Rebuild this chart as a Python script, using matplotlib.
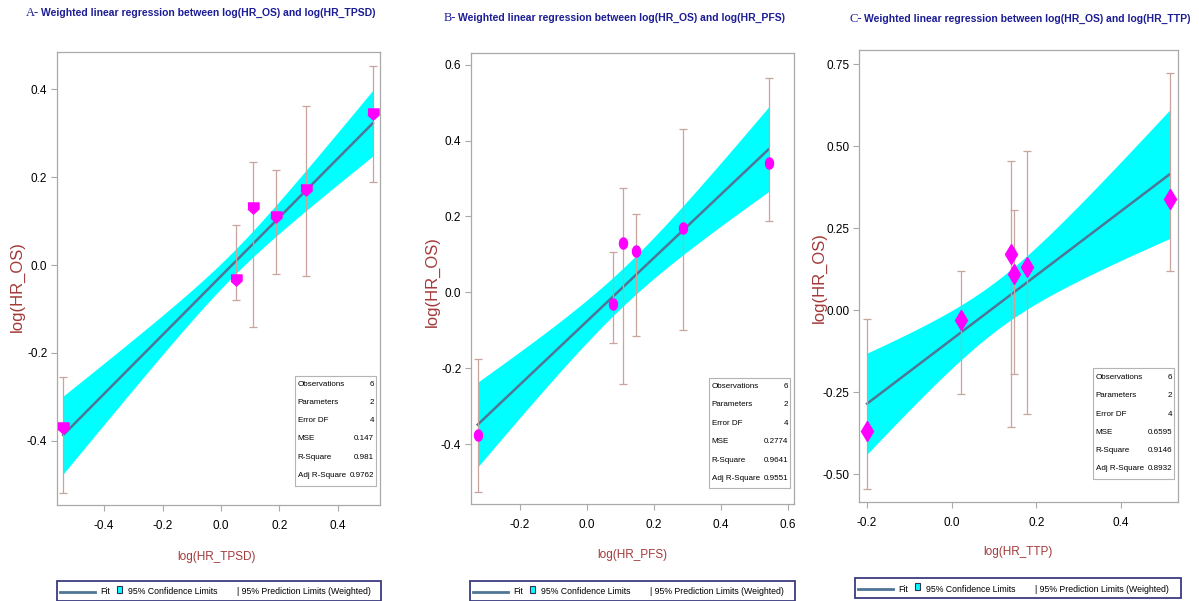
import numpy as np
import matplotlib
matplotlib.use("Agg")
import matplotlib.pyplot as plt
from matplotlib.patches import Rectangle
from matplotlib.lines import Line2D

plt.rcParams['font.family'] = ['Liberation Sans', 'DejaVu Sans']
plt.rcParams['axes.unicode_minus'] = False

W, H = 1199, 601

# ---- data ----
stat_names = ['Observations', 'Parameters', 'Error DF', 'MSE', 'R-Square', 'Adj R-Square']

# A: log(HR_TPSD)
a_x = [-0.54, 0.05, 0.11, 0.188, 0.29, 0.52]
a_y = [-0.371, -0.034, 0.131, 0.11, 0.17, 0.343]
a_pl_lo = [-0.519, -0.08, -0.142, -0.02, -0.024, 0.19]
a_pl_hi = [-0.255, 0.091, 0.234, 0.216, 0.362, 0.454]
a_fit = [-0.025, 0.67]          # intercept, slope
a_cl = [0.04, 0.028, 0.145]     # centre x, half width at centre, spread
a_stats = ['6', '2', '4', '0.147', '0.981', '0.9762']

# B: log(HR_PFS)
b_x = [-0.325, 0.079, 0.11, 0.147, 0.289, 0.543]
b_y = [-0.376, -0.031, 0.131, 0.109, 0.169, 0.34]
b_pl_lo = [-0.527, -0.133, -0.242, -0.114, -0.099, 0.189]
b_pl_hi = [-0.176, 0.107, 0.276, 0.207, 0.431, 0.566]
b_fit = [-0.077, 0.836]
b_cl = [0.11, 0.05, 0.23]
b_stats = ['6', '2', '4', '0.2774', '0.9641', '0.9551']

# C: log(HR_TTP)
c_x = [-0.2, 0.022, 0.141, 0.148, 0.177, 0.515]
c_y = [-0.369, -0.030, 0.173, 0.112, 0.132, 0.340]
c_pl_lo = [-0.544, -0.254, -0.357, -0.193, -0.317, 0.119]
c_pl_hi = [-0.025, 0.119, 0.454, 0.305, 0.485, 0.722]
c_fit = [-0.089, 0.977]
c_cl = [0.105, 0.075, 0.441]
c_stats = ['6', '2', '4', '0.6595', '0.9146', '0.8932']

FIT_COL = '#4f7696'
BAND_COL = '#00ffff'
PT_COL = '#ff00ff'
BAR_COL = '#c8a59c'
LAB_COL = '#a33a3a'
TITLE_COL = '#1c1c96'
FRAME_COL = '#a9a9a9'


def fx(px):
    return px / W


def fy(py):
    return 1 - py / H


shield = [(-1, 1), (1, 1), (1, -0.1), (0, -1), (-1, -0.1)]
t = np.linspace(0, 2 * np.pi, 40)
oval = list(zip(0.72 * np.cos(t), np.sin(t)))

panels = [
    dict(letter='A-', title='Weighted linear regression between log(HR_OS) and log(HR_TPSD)',
         xlab='log(HR_TPSD)', x=a_x, y=a_y, lo=a_pl_lo, hi=a_pl_hi, fit=a_fit, cl=a_cl, stats=a_stats,
         box=(57, 52, 380, 505), xlim=(-0.561, 0.544), ylim=(-0.546, 0.485),
         xt=[-0.4, -0.2, 0.0, 0.2, 0.4], yt=[-0.4, -0.2, 0.0, 0.2, 0.4], yfmt='%.1f', marker=shield, ms=8,
         tpos=(26, 41, 13), sbox=(295, 376, 376, 486), srows=[384, 402.3, 420.7, 439, 457.3, 475.7],
         leg=(57, 381, 581, 601), ylab=(17, 287), xlab_pos=(217, 557)),
    dict(letter='B-', title='Weighted linear regression between log(HR_OS) and log(HR_PFS)',
         xlab='log(HR_PFS)', x=b_x, y=b_y, lo=b_pl_lo, hi=b_pl_hi, fit=b_fit, cl=b_cl, stats=b_stats,
         box=(471, 53, 794, 504), xlim=(-0.345, 0.619), ylim=(-0.558, 0.631),
         xt=[-0.2, 0.0, 0.2, 0.4, 0.6], yt=[-0.4, -0.2, 0.0, 0.2, 0.4, 0.6], yfmt='%.1f', marker=oval, ms=8,
         tpos=(444, 458, 18), sbox=(709, 790, 378, 488), srows=[386.7, 405, 423.3, 441.7, 460, 478],
         leg=(470, 795, 581, 601), ylab=(432, 282), xlab_pos=(632, 555)),
    dict(letter='C-', title='Weighted linear regression between log(HR_OS) and log(HR_TTP)',
         xlab='log(HR_TTP)', x=c_x, y=c_y, lo=c_pl_lo, hi=c_pl_hi, fit=c_fit, cl=c_cl, stats=c_stats,
         box=(859, 50, 1178, 502), xlim=(-0.219, 0.535), ylim=(-0.584, 0.793),
         xt=[-0.2, 0.0, 0.2, 0.4], yt=[-0.5, -0.25, 0.0, 0.25, 0.5, 0.75], yfmt='%.2f', marker='d', ms=10,
         tpos=(850, 864, 19), sbox=(1093, 1174, 368, 479), srows=[377.3, 395.7, 414, 432.3, 450.7, 469],
         leg=(855, 1181, 578, 598), ylab=(819, 278), xlab_pos=(1018, 552)),
]

fig = plt.figure(figsize=(W / 100, H / 100), dpi=100)

for p in panels:
    l, tp, r, b = p['box']
    ax = fig.add_axes([fx(l), fy(b), (r - l) / W, (b - tp) / H])
    x = np.array(p['x'])
    y = np.array(p['y'])
    xs = np.linspace(x.min(), x.max(), 200)
    fit = p['fit'][0] + p['fit'][1] * xs
    xc, h0, sp = p['cl']
    hw = np.sqrt(h0 ** 2 + sp ** 2 * (xs - xc) ** 2)
    ax.fill_between(xs, fit - hw, fit + hw, color=BAND_COL, lw=0, zorder=1)
    ax.plot(xs, fit, color=FIT_COL, lw=1.8, zorder=2)
    xc_pts = p['fit'][0] + p['fit'][1] * x
    ax.errorbar(x, xc_pts, yerr=[xc_pts - np.array(p['lo']), np.array(p['hi']) - xc_pts],
                fmt='none', ecolor=BAR_COL, elinewidth=0.9, capsize=3, capthick=0.9, zorder=3)
    ax.plot(x, y, linestyle='none', marker=p['marker'], ms=p['ms'], color=PT_COL, mec=PT_COL, zorder=4)

    ax.set_xlim(*p['xlim'])
    ax.set_ylim(*p['ylim'])
    ax.set_xticks(p['xt'])
    ax.set_xticklabels(['%.1f' % v for v in p['xt']])
    ax.set_yticks(p['yt'])
    ax.set_yticklabels([p['yfmt'] % v for v in p['yt']])
    ax.tick_params(labelsize=8.5, color=FRAME_COL, length=4, width=0.8)
    ax.tick_params(axis='x', pad=7)
    ax.tick_params(axis='y', pad=3)
    for s in ax.spines.values():
        s.set_color(FRAME_COL)
        s.set_linewidth(0.9)

    # axis labels
    fig.text(fx(p['xlab_pos'][0]), fy(p['xlab_pos'][1]), p['xlab'], color=LAB_COL, fontsize=8.5,
             ha='center', va='center')
    fig.text(fx(p['ylab'][0]), fy(p['ylab'][1]), 'log(HR_OS)', color=LAB_COL, fontsize=12,
             rotation=90, ha='center', va='center')

    # title
    lx, mx, ty = p['tpos']
    fig.text(fx(lx), fy(ty), p['letter'], family=['Liberation Serif', 'DejaVu Serif'], fontsize=9,
             color=TITLE_COL, va='center', ha='left')
    fig.text(fx(mx), fy(ty), p['title'], fontsize=7.5, fontweight='bold', color=TITLE_COL,
             va='center', ha='left')

    # fit statistics box
    sl, sr, st, sb = p['sbox']
    fig.add_artist(Rectangle((fx(sl), fy(sb)), (sr - sl) / W, (sb - st) / H, transform=fig.transFigure,
                             facecolor='white', edgecolor='#b4b4b4', lw=0.8, zorder=5))
    for name, val, ry in zip(stat_names, p['stats'], p['srows']):
        fig.text(fx(sl + 2.5), fy(ry), name, fontsize=5.8, va='center', ha='left', zorder=6)
        fig.text(fx(sr - 2), fy(ry), val, fontsize=5.8, va='center', ha='right', zorder=6)

    # legend strip
    gl, gr, gt, gb = p['leg']
    fig.add_artist(Rectangle((fx(gl), fy(gb)), (gr - gl) / W, (gb - gt) / H, transform=fig.transFigure,
                             facecolor='white', edgecolor='#3b3b80', lw=1.3))
    my = (gt + gb) / 2 + 1
    fig.add_artist(Line2D([fx(gl + 3), fx(gl + 38)], [fy(my), fy(my)], transform=fig.transFigure,
                          color=FIT_COL, lw=2))
    fig.text(fx(gl + 43), fy(my), 'Fit', fontsize=6.3, va='center', ha='left')
    fig.add_artist(Rectangle((fx(gl + 60), fy(my + 1)), 5 / W, 7 / H, transform=fig.transFigure,
                             facecolor=BAND_COL, edgecolor='#333355', lw=0.8))
    fig.text(fx(gl + 71), fy(my), '95% Confidence Limits', fontsize=6.3, va='center', ha='left')
    fig.text(fx(gl + 180), fy(my), '| 95% Prediction Limits (Weighted)', fontsize=6.3,
             va='center', ha='left')

fig.savefig('out.png', dpi=100, facecolor='white')
